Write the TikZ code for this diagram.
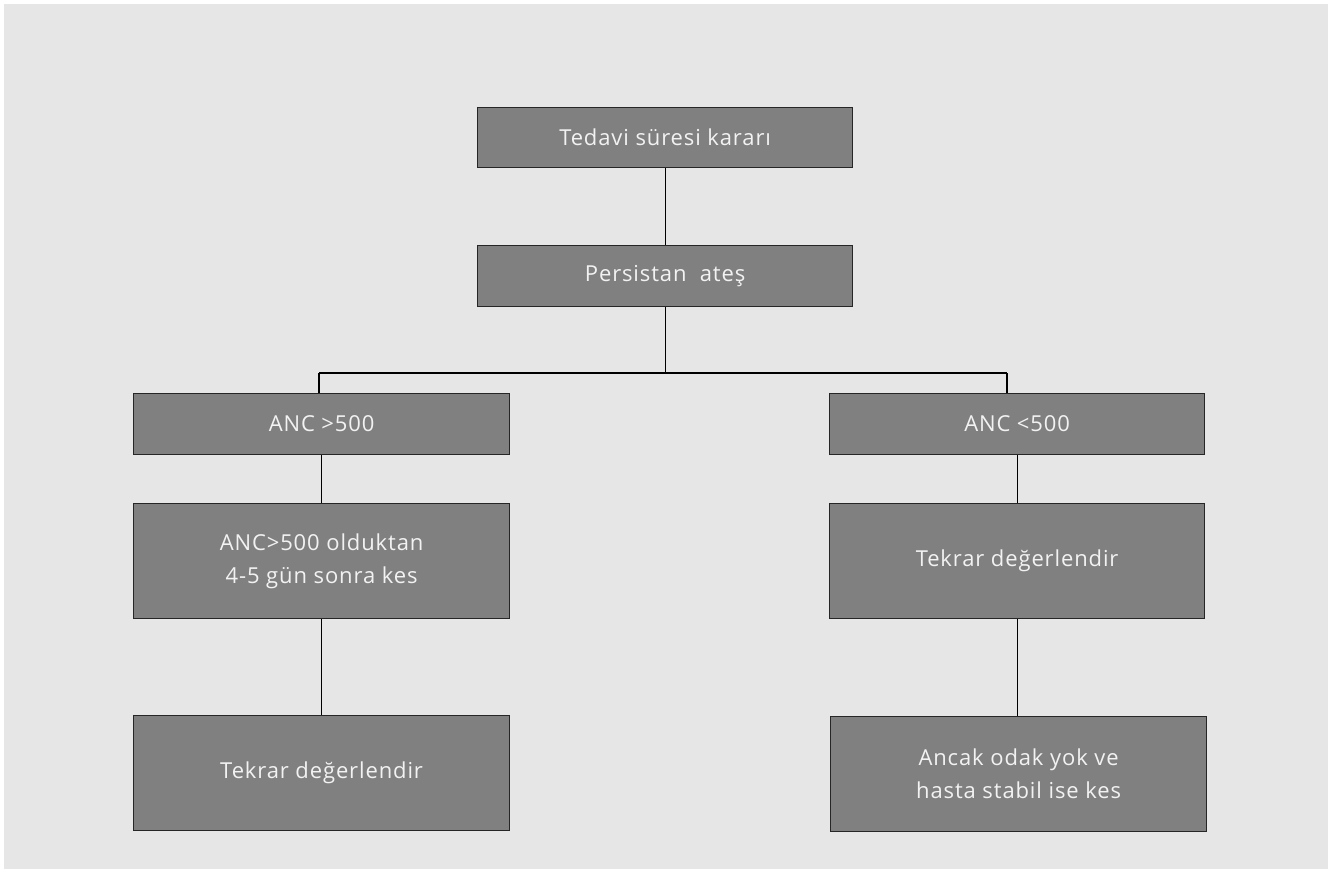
\documentclass[tikz,border=0pt]{standalone}
\usepackage{fontspec}
\setmainfont{Open Sans}[LetterSpace=4]
\definecolor{bg}{HTML}{E6E6E6}
\definecolor{boxfill}{HTML}{808080}
\definecolor{txt}{HTML}{F2F2F2}
\begin{document}
\begin{tikzpicture}[x=1pt,y=-1pt,
  box/.style={draw=black!85, line width=1.2pt, fill=boxfill, text=txt, inner sep=0pt, anchor=north west, align=center, font=\fontsize{22}{33}\selectfont},
  conn/.style={draw=black, line width=1.1pt}]
\useasboundingbox (0,0) rectangle (1333,869);
\fill[bg] (4,4) rectangle (1328,869);
\node[box, minimum width=375pt, minimum height=60pt] (t1) at (477,107) {Tedavi süresi kararı};
\node[box, minimum width=375pt, minimum height=61pt] (t2) at (477,245) {Persistan\ \ ateş};
\node[box, minimum width=376pt, minimum height=61pt] (l1) at (133,393) {ANC >500};
\node[box, minimum width=375pt, minimum height=61pt] (r1) at (829,393) {ANC <500};
\node[box, minimum width=376pt, minimum height=115pt] (l2) at (133,503) {ANC>500 olduktan\\4-5 gün sonra kes};
\node[box, minimum width=375pt, minimum height=115pt] (r2) at (829,503) {Tekrar değerlendir};
\node[box, minimum width=376pt, minimum height=115pt] (l3) at (133,715) {Tekrar değerlendir};
\node[box, minimum width=376pt, minimum height=115pt] (r3) at (830,716) {Ancak odak yok ve\\hasta stabil ise kes};
\coordinate (hl) at (319,373);
\coordinate (hr) at (1007,373);
\draw[conn] (t1.south) -- (t2.north);
\draw[conn] (t2.south) -- (t2.south |- hl);
\draw[conn] (hl) -- (hr);
\draw[conn] (hl) -- (hl |- l1.north);
\draw[conn] (hr) -- (hr |- r1.north);
\draw[conn] (l1.south) -- (l2.north);
\draw[conn] (l2.south) -- (l3.north);
\draw[conn] (r1.south) -- (r2.north);
\draw[conn] (r2.south) -- (r2.south |- r3.north);
\end{tikzpicture}
\end{document}
